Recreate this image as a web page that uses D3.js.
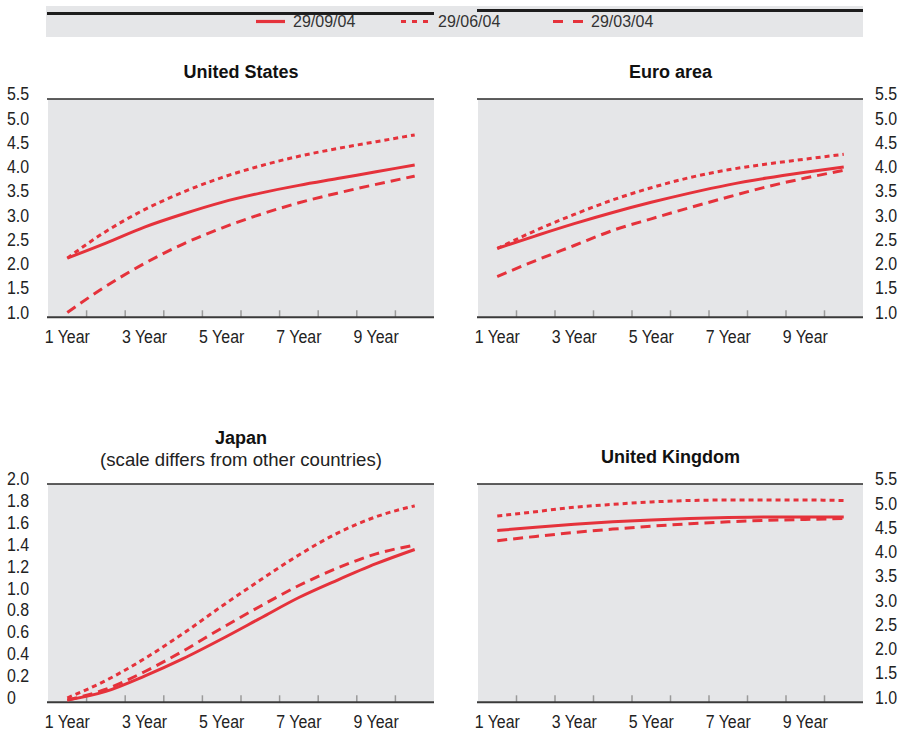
<!DOCTYPE html>
<html><head><meta charset="utf-8">
<script src="https://cdn.jsdelivr.net/npm/d3@7"></script>
<style>
body{margin:0;background:#fff;}
svg{display:block;}
</style></head>
<body>
<svg id="chart" width="903" height="731"></svg>
<script>
// ---------- data ----------
const maturities = ["1 Year","2 Year","3 Year","4 Year","5 Year","6 Year","7 Year","8 Year","9 Year","10 Year"];
const tickLabels = ["1 Year","3 Year","5 Year","7 Year","9 Year"];
const seriesNames = ["29/09/04","29/06/04","29/03/04"];

const usSep  = [2.22,2.53,2.86,3.13,3.37,3.56,3.72,3.86,4.00,4.14];
const usJun  = [2.22,2.77,3.22,3.58,3.88,4.12,4.32,4.48,4.62,4.76];
const usMar  = [1.10,1.64,2.11,2.51,2.84,3.12,3.36,3.56,3.74,3.91];

const euSep  = [2.42,2.68,2.93,3.16,3.37,3.56,3.73,3.87,3.99,4.10];
const euJun  = [2.42,2.79,3.12,3.42,3.67,3.88,4.04,4.16,4.26,4.36];
const euMar  = [1.84,2.17,2.48,2.79,3.03,3.26,3.48,3.69,3.87,4.03];

const jpSep  = [0.02,0.10,0.24,0.40,0.58,0.77,0.96,1.12,1.27,1.40];
const jpJun  = [0.04,0.20,0.40,0.63,0.88,1.12,1.35,1.55,1.70,1.80];
const jpMar  = [0.02,0.12,0.28,0.47,0.68,0.88,1.07,1.23,1.36,1.44];

const ukSep  = [4.54,4.61,4.67,4.72,4.76,4.79,4.81,4.82,4.82,4.82];
const ukJun  = [4.84,4.93,5.02,5.08,5.13,5.16,5.17,5.17,5.17,5.16];
const ukMar  = [4.33,4.42,4.50,4.57,4.63,4.68,4.72,4.75,4.77,4.79];

const ticksStd   = [1.0,1.5,2.0,2.5,3.0,3.5,4.0,4.5,5.0,5.5];
const ticksJapan = [0,0.2,0.4,0.6,0.8,1.0,1.2,1.4,1.6,1.8,2.0];

// ---------- styles ----------
const RED = "#e5323b";
const dashes = ["none","5,4","10,6"];
const legendDashes = ["none","5,6","10,10"];
const tickFont = "'Liberation Sans',Arial,Helvetica,sans-serif";
const mainFont = "'Liberation Sans',Arial,Helvetica,sans-serif";
const condense = 0.91;

const svg = d3.select("#chart");

function squeeze(sel){
  sel.each(function(){
    const len = this.getComputedTextLength();
    d3.select(this).attr("textLength", len*condense).attr("lengthAdjust","spacingAndGlyphs");
  });
}

// ---------- legend ----------
const lg = svg.append("g");
lg.append("rect").attr("x",46).attr("y",6).attr("width",817).attr("height",31).attr("fill","#e5e6e8");
lg.append("rect").attr("x",47).attr("y",12).attr("width",387).attr("height",3).attr("fill","#1d1d1d");
lg.append("rect").attr("x",477).attr("y",9).attr("width",386).attr("height",3).attr("fill","#1d1d1d");
const legendItems = [{x1:256,x2:285,tx:293},{x1:401,x2:428,tx:438},{x1:553,x2:583,tx:591}];
seriesNames.forEach((name,i)=>{
  const it = legendItems[i];
  lg.append("line").attr("x1",it.x1).attr("x2",it.x2).attr("y1",21.5).attr("y2",21.5)
    .attr("stroke",RED).attr("stroke-width",3.2).attr("stroke-dasharray",legendDashes[i]);
  lg.append("text").attr("x",it.tx).attr("y",27).attr("font-family",mainFont).attr("font-size",16)
    .attr("fill","#333").text(name);
});

// ---------- panels ----------
const panels = [
  {title:"United States", sub:null, x0:48, x1:434, yT:99, yB:317.3, dom:[1,5.5], ticks:ticksStd, side:"left", data:[usSep,usJun,usMar], titleY:77.5},
  {title:"Euro area", sub:null, x0:478, x1:863, yT:99, yB:317.3, dom:[1,5.5], ticks:ticksStd, side:"right", data:[euSep,euJun,euMar], titleY:77.5},
  {title:"Japan", sub:"(scale differs from other countries)", x0:48, x1:434, yT:484, yB:702.3, dom:[0,2], ticks:ticksJapan, side:"left", data:[jpSep,jpJun,jpMar], titleY:443.5},
  {title:"United Kingdom", sub:null, x0:478, x1:863, yT:484, yB:702.3, dom:[1,5.5], ticks:ticksStd, side:"right", data:[ukSep,ukJun,ukMar], titleY:462.5}
];

panels.forEach(p=>{
  const g = svg.append("g");
  const x = d3.scaleBand().domain(maturities).range([p.x0,p.x1]).padding(0);
  const y = d3.scaleLinear().domain(p.dom).range([p.yB,p.yT]);
  const bw = x.bandwidth();

  g.append("rect").attr("x",p.x0).attr("y",p.yT).attr("width",p.x1-p.x0).attr("height",p.yB-p.yT).attr("fill","#e5e6e8");
  g.append("line").attr("x1",p.x0-1).attr("x2",p.x1).attr("y1",p.yT).attr("y2",p.yT).attr("stroke","#2a2a2a").attr("stroke-width",1.6);

  // tick marks at band boundaries
  g.selectAll("line.tk").data(maturities.slice(1)).enter().append("line").attr("class","tk")
    .attr("x1",d=>x(d)).attr("x2",d=>x(d)).attr("y1",p.yB).attr("y2",p.yB-7)
    .attr("stroke","#9a9a9a").attr("stroke-width",1.5);
  g.append("line").attr("x1",p.x0-1).attr("x2",p.x1).attr("y1",p.yB).attr("y2",p.yB).attr("stroke","#3a3a3a").attr("stroke-width",2);

  // x axis labels
  const xa = g.append("g").attr("transform",`translate(0,${p.yB})`)
    .call(d3.axisBottom(x).tickValues(tickLabels).tickSize(0).tickPadding(13.5));
  xa.select(".domain").remove();
  xa.selectAll("text").attr("font-family",tickFont).attr("font-size",17.5).attr("fill","#222").call(squeeze);

  // y axis labels
  const fmt = v => v===0 ? "0" : d3.format(".1f")(v);
  const yx = p.side==="left" ? 7 : 875;
  const ya = g.append("g").attr("transform",`translate(${yx},0)`)
    .call(d3.axisRight(y).tickValues(p.ticks).tickFormat(fmt).tickSize(0).tickPadding(0));
  ya.select(".domain").remove();
  ya.selectAll("text").attr("font-family",tickFont).attr("font-size",17.5).attr("fill","#222").attr("dy","0.05em").call(squeeze);

  // title
  g.append("text").attr("x",(p.x0+p.x1)/2).attr("y",p.titleY).attr("text-anchor","middle")
    .attr("font-family",mainFont).attr("font-weight","bold").attr("font-size",18).attr("fill","#111").text(p.title);
  if(p.sub){
    g.append("text").attr("x",(p.x0+p.x1)/2).attr("y",p.titleY+22.5).attr("text-anchor","middle")
      .attr("font-family",mainFont).attr("font-size",18.6).attr("fill","#222").text(p.sub);
  }

  // lines
  const line = d3.line().x((d,i)=>x(maturities[i])+bw/2).y(d=>y(d)).curve(d3.curveMonotoneX);
  p.data.forEach((vals,si)=>{
    g.append("path").attr("d",line(vals)).attr("fill","none").attr("stroke",RED)
      .attr("stroke-width",3).attr("stroke-dasharray",dashes[si]);
  });
});
</script>
</body></html>
